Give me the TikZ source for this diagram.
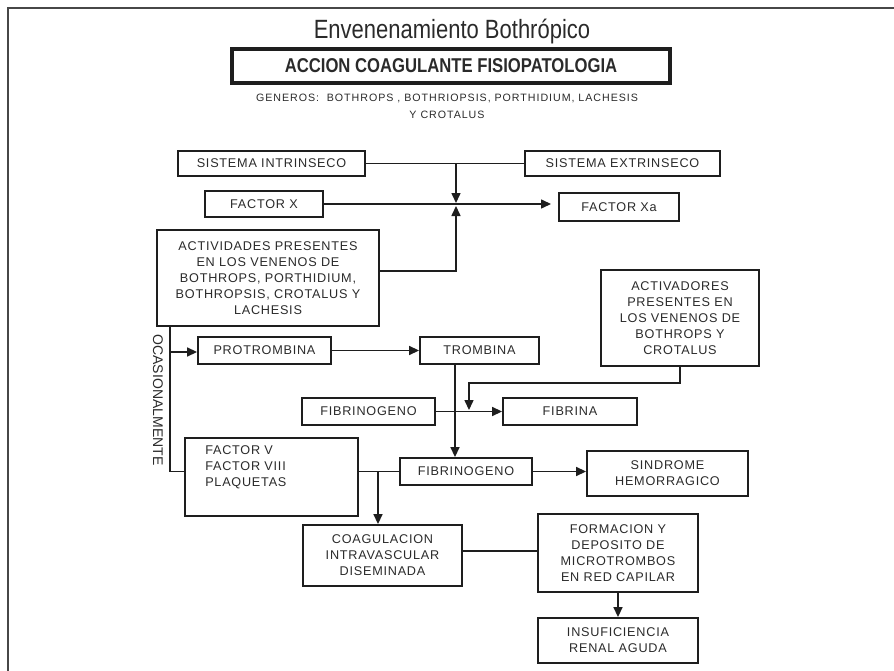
\documentclass[tikz,border=0pt]{standalone}
\usepackage{fontspec}
\setmainfont{Liberation Sans}
\newfontfamily\boxfam[LetterSpace=6]{Liberation Sans}
\newfontfamily\genfam[LetterSpace=9]{Liberation Sans}
\usetikzlibrary{arrows.meta,calc}
\definecolor{inkline}{HTML}{1E1E1E}
\definecolor{inktext}{HTML}{2A2A2A}
\definecolor{framegray}{HTML}{474747}
\tikzset{
  % a rectangle given by its pixel corners x1/y1/x2/y2
  area/.style args={#1/#2/#3/#4}{
    minimum width={(#3-#1)*0.75pt}, minimum height={(#4-#2)*0.75pt},
    at={(0.5*#1+0.5*#3, 0.5*#2+0.5*#4)}},
  box/.style={draw=inkline, line width=1.4pt, inner sep=0pt, align=center,
    text=inktext, font=\boxfam\fontsize{9.5}{12}\selectfont},
  link/.style={draw=inkline, line width=1pt},
  arr/.style={link, -{Triangle[length=7.5pt,width=6.8pt]}},
  plaintext/.style={inner sep=0pt, text=inktext, font=\boxfam\fontsize{9.5}{12}\selectfont},
}
\begin{document}
\begin{tikzpicture}[x=0.75pt,y=-0.75pt]
\useasboundingbox (0,0) rectangle (894,671);
% page frame (top and left rules)
\draw[framegray, line width=1.6pt] (8,671) -- (8,8) -- (894,8);

% heading
\node[inner sep=0pt, text=inktext, font=\fontsize{16.5}{20}\selectfont] (title) at (452,32)
  {\scalebox{1}[1.2]{Envenenamiento Bothrópico}};
\node[draw=inkline, line width=2.8pt, inner sep=0pt, area=232/49/670/83,
  font=\bfseries\fontsize{12.5}{15}\selectfont, text=inktext] (sub)
  {\scalebox{1}[1.2]{ACCION COAGULANTE FISIOPATOLOGIA}};
\node[inner sep=0pt, text=inktext, font=\genfam\fontsize{8}{12.5}\selectfont, align=center] (gen) at (447,106)
  {GENEROS:\ \ BOTHROPS , BOTHRIOPSIS, PORTHIDIUM, LACHESIS\\Y CROTALUS};

% boxes
\node[box, area=178/151/365/176] (intr) {SISTEMA INTRINSECO};
\node[box, area=525/151/720/176] (extr) {SISTEMA EXTRINSECO};
\node[box, area=205/191/323/217] (fx) {FACTOR X};
\node[box, area=559/193/679/221] (fxa) {FACTOR Xa};
\node[box, area=157/230/379/326] (act) {ACTIVIDADES PRESENTES\\EN LOS VENENOS DE\\BOTHROPS, PORTHIDIUM,\\BOTHROPSIS, CROTALUS Y\\LACHESIS};
\node[box, area=601/270/759/366] (actv) {ACTIVADORES\\PRESENTES EN\\LOS VENENOS DE\\BOTHROPS Y\\CROTALUS};
\node[box, area=198/337/331/364] (prot) {PROTROMBINA};
\node[box, area=420/337/539/364] (tromb) {TROMBINA};
\node[box, area=302/398/435/425] (fibga) {FIBRINOGENO};
\node[box, area=503/398/637/425] (fibr) {FIBRINA};
\node[box, area=185/438/358/516] (fv) {};
\node[plaintext, anchor=west, align=left] (fvtext) at (205,467) {FACTOR V\\FACTOR VIII\\PLAQUETAS};
\node[box, area=400/458/532/485] (fibgb) {FIBRINOGENO};
\node[box, area=587/451/748/496] (sind) {SINDROME\\HEMORRAGICO};
\node[box, area=303/525/462/586] (coag) {COAGULACION\\INTRAVASCULAR\\DISEMINADA};
\node[box, area=538/514/698/592] (form) {FORMACION Y\\DEPOSITO DE\\MICROTROMBOS\\EN RED CAPILAR};
\node[box, area=538/618/698/663] (insuf) {INSUFICIENCIA\\RENAL AGUDA};

\node[inner sep=0pt, text=inktext, rotate=-90, font=\fontsize{10.5}{12}\selectfont] (ocas) at (158,400) {OCASIONALMENTE};

% junction points
\coordinate (jtop) at (456,164);
\coordinate (jdown) at (456,203);
\coordinate (jup) at (456,206);
\coordinate (xa) at (551,204);
\coordinate (ja) at (379,271);
\coordinate (oc) at (170,326);
\coordinate (ocp) at (170,352);
\coordinate (ocb) at (170,471.5);
\coordinate (tv) at (455,364);
\coordinate (ta) at (469,383);
\coordinate (tb) at (469,410);
\coordinate (br) at (378,471.5);
\coordinate (cf) at (462,551);

% connectors
\draw[link] (intr.east) -- (extr.west);
\draw[arr] (jtop) -- (jdown);
\draw[arr] (fx.east) -- (xa);
\draw[arr] (ja) -| (jup);
\draw[link] (oc) -- (ocb) -- (ocb -| fv.west);
\draw[arr] (ocp) -- (ocp -| prot.west);
\draw[arr] (prot.east) -- (tromb.west);
\draw[arr] (tv) -- (tv |- fibgb.north);
\draw[arr] (actv.south) |- (ta) -- (tb);
\draw[arr] (fibga.east) -- (fibr.west);
\draw[link] (fibgb.west -| fv.east) -- (fibgb.west);
\draw[arr] (br) -- (br |- coag.north);
\draw[arr] (fibgb.east) -- (fibgb.east -| sind.west);
\draw[link] (cf) -- (cf -| form.west);
\draw[arr] (form.south) -- (insuf.north);
\end{tikzpicture}
\end{document}
